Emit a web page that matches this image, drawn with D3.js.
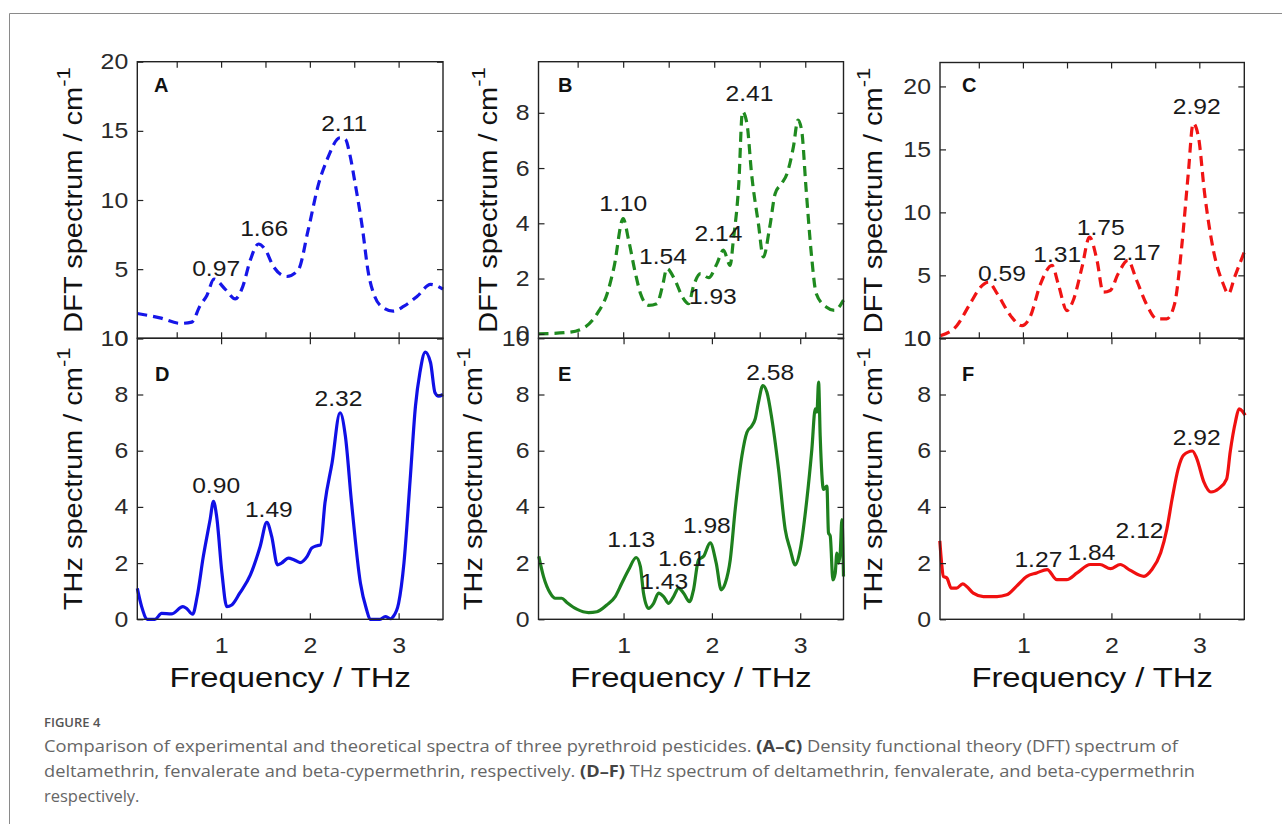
<!DOCTYPE html>
<html><head><meta charset="utf-8">
<script src="https://cdn.jsdelivr.net/npm/d3@7"></script>
<style>body{margin:0;background:#fff}svg{display:block}</style>
</head><body>
<svg id="c" width="1282" height="824"></svg>
<script>
// ---------------- DATA ----------------
const freqA = [0.056,0.31,0.54,0.67,0.76,0.84,0.92,1.045,1.16,1.245,1.33,1.42,1.50,1.59,1.74,1.87,1.98,2.10,2.19,2.34,2.40,2.45,2.51,2.59,2.66,2.73,2.83,2.94,3.06,3.21,3.36,3.50];
const dftA  = [1.79,1.48,1.08,1.17,2.32,3.1,4.28,3.56,2.85,3.76,5.67,6.82,6.39,5.19,4.47,4.95,7.8,11.2,12.85,14.5,14.4,13.3,11.2,8.06,4.7,3.04,2.2,1.96,2.32,3.04,3.9,3.56];

const freqB = [0.07,0.39,0.57,0.715,0.825,0.90,1.0,1.06,1.135,1.19,1.28,1.37,1.43,1.48,1.57,1.65,1.72,1.77,1.85,1.94,2.03,2.10,2.175,2.21,2.27,2.31,2.36,2.41,2.485,2.54,2.61,2.67,2.74,2.80,2.87,2.92,2.96,3.01,3.07,3.12,3.23,3.32,3.42];
const dftB  = [0.0,0.05,0.22,0.73,1.46,2.42,4.17,3.39,2.18,1.46,1.03,1.09,1.7,2.36,1.94,1.34,1.09,1.7,2.18,2.03,2.54,3.03,2.48,3.39,5.44,8.04,7.6,5.8,3.99,2.78,3.87,5.08,5.44,5.8,6.77,7.74,7.37,5.2,2.78,1.46,0.97,0.85,1.22];

const freqC = [0.064,0.25,0.40,0.52,0.61,0.71,0.86,0.99,1.08,1.20,1.33,1.40,1.50,1.57,1.67,1.755,1.84,1.91,1.99,2.08,2.19,2.29,2.40,2.52,2.63,2.72,2.80,2.875,2.93,2.99,3.06,3.16,3.27,3.33,3.40,3.51];
const dftC  = [0.21,1.0,2.73,4.06,4.46,3.53,1.8,1.0,1.67,4.33,5.79,4.33,2.2,3.0,5.65,8.04,6.19,3.66,3.8,5.12,6.19,4.59,2.73,1.54,1.54,2.73,7.25,13.1,17.07,16.0,11.5,6.98,4.33,3.53,4.86,6.85];

const freqD = [0.056,0.105,0.17,0.255,0.33,0.44,0.57,0.61,0.68,0.73,0.80,0.876,0.914,0.95,1.01,1.064,1.12,1.21,1.33,1.44,1.515,1.57,1.635,1.68,1.76,1.82,1.89,1.97,2.02,2.08,2.12,2.17,2.25,2.34,2.40,2.47,2.57,2.64,2.68,2.79,2.85,2.91,2.94,3.0,3.06,3.13,3.19,3.24,3.30,3.36,3.41,3.45,3.50];
const thzD  = [1.1,0.45,0,0,0.21,0.19,0.45,0.39,0.18,0.81,2.24,3.54,4.2,3.66,1.64,0.45,0.51,0.93,1.58,2.59,3.45,2.95,1.94,2.0,2.18,2.12,2.02,2.24,2.53,2.62,2.65,4.14,5.56,7.35,6.52,4.14,1.28,0.33,0,0,0.1,0.02,0.1,0.57,2.0,4.97,7.59,8.78,9.51,9.13,8.06,7.94,8.0];

const freqE = [0.04,0.094,0.17,0.226,0.30,0.358,0.47,0.604,0.698,0.81,0.906,0.98,1.057,1.143,1.19,1.226,1.283,1.34,1.396,1.453,1.51,1.566,1.623,1.68,1.747,1.792,1.849,1.906,1.981,2.049,2.106,2.151,2.208,2.264,2.34,2.396,2.453,2.49,2.528,2.577,2.623,2.679,2.755,2.83,2.887,2.943,3.0,3.075,3.132,3.17,3.189,3.208,3.226,3.264,3.302,3.32,3.34,3.37,3.396,3.415,3.434,3.453,3.472,3.49];
const thzE  = [2.24,1.52,0.93,0.75,0.75,0.6,0.36,0.24,0.27,0.51,0.81,1.28,1.76,2.2,1.88,0.93,0.39,0.57,0.93,0.81,0.57,0.81,1.11,0.93,0.63,1.05,2.12,2.24,2.72,2.0,1.05,1.28,2.12,3.91,5.82,6.65,6.89,7.13,7.73,8.32,8.08,7.13,5.34,3.2,2.48,1.94,2.48,4.26,6.06,7.49,7.37,8.44,6.53,4.62,4.74,3.08,2.96,1.4,1.64,2.36,2.0,2.36,3.55,1.52];

const freqF = [0.05,0.07,0.09,0.13,0.18,0.24,0.31,0.355,0.43,0.545,0.70,0.81,0.92,1.04,1.15,1.27,1.38,1.49,1.61,1.76,1.87,1.99,2.10,2.21,2.37,2.46,2.56,2.63,2.69,2.76,2.82,2.92,2.97,3.05,3.13,3.22,3.31,3.35,3.41,3.45,3.49,3.52];
const thzF  = [2.79,2.01,1.53,1.47,1.11,1.11,1.26,1.17,0.93,0.81,0.81,0.87,1.17,1.53,1.65,1.77,1.41,1.41,1.65,1.95,1.95,1.8,1.95,1.75,1.53,1.77,2.37,3.21,4.29,5.37,5.84,5.99,5.72,4.89,4.53,4.65,5.0,5.96,7.04,7.49,7.40,7.26];

// peak annotations (text, frequency, intensity of label centre)
const peaksA = ["0.97","1.66","2.11"], peakXA = [0.944,1.485,2.387], peakYA = [5.07,7.94,15.53];
const peaksB = ["1.10","1.54","1.93","2.14","2.41"], peakXB = [1.0,1.438,1.985,2.047,2.387], peakYB = [4.75,2.83,1.36,3.66,8.7];
const peaksC = ["0.59","1.31","1.75","2.17","2.92"], peakXC = [0.762,1.389,1.883,2.29,2.97], peakYC = [5.18,6.72,8.84,6.85,18.45];
const peaksD = ["0.90","1.49","2.32"], peakXD = [0.944,1.538,2.323], peakYD = [4.76,3.92,7.88];
const peaksE = ["1.13","1.43","1.61","1.98","2.58"], peakXE = [1.087,1.46,1.66,1.943,2.66], peakYE = [2.84,1.35,2.18,3.37,8.8];
const peaksF = ["1.27","1.84","2.12","2.92"], peakXF = [1.17,1.774,2.32,2.97], peakYF = [2.16,2.40,3.16,6.47];

// ticks
const yTicksA = [0,5,10,15,20];
const yTicksB = [0,2,4,6,8];
const yTicksC = [0,5,10,15,20];
const yTicksBottom = [0,2,4,6,8,10];
const xTicksTop = [0.5,1,1.5,2,2.5,3];
const xTicksBottom = [1,2,3];

// ---------------- DRAW ----------------
const svg = d3.select('#c');
const FONT = "'Liberation Sans', Arial, Helvetica, sans-serif";

// outer frame
svg.append('path').attr('d','M9.5,824 V13.5 H1282').attr('fill','none').attr('stroke','#8a8a8a').attr('stroke-width',1);

const panels = [
 {fx:freqA, fy:dftA, xd:[0.056,3.5], yd:[0,20], l:137.3,t:61.7,r:443,b:338.3, yt:yTicksA, color:'#1616e8', dashed:true, lab:peaksA, lx:peakXA, ly:peakYA, letter:'A', lp:[154,92], title:'DFT spectrum / cm', tx:82, top:true},
 {fx:freqB, fy:dftB, xd:[0.07,3.42], yd:[-0.163,9.85], l:538.5,t:61.7,r:843.5,b:338.3, yt:yTicksB, color:'#1f8a1f', dashed:true, lab:peaksB, lx:peakXB, ly:peakYB, letter:'B', lp:[558,92], title:'DFT spectrum / cm', tx:497, top:true},
 {fx:freqC, fy:dftC, xd:[0.06,3.51], yd:[0,21.9], l:940,t:62.5,r:1244.3,b:338.3, yt:yTicksC, color:'#f01414', dashed:true, lab:peaksC, lx:peakXC, ly:peakYC, letter:'C', lp:[962,92], title:'DFT spectrum / cm', tx:882, top:true},
 {fx:freqD, fy:thzD, xd:[0.056,3.5], yd:[0,10], l:137.3,t:338.3,r:443,b:619.3, yt:yTicksBottom, color:'#1010e6', dashed:false, lab:peaksD, lx:peakXD, ly:peakYD, letter:'D', lp:[155,381], title:'THz spectrum / cm', tx:82, top:false},
 {fx:freqE, fy:thzE, xd:[0.037,3.49], yd:[0,10], l:538.5,t:338.3,r:843.5,b:619.3, yt:yTicksBottom, color:'#1e801e', dashed:false, lab:peaksE, lx:peakXE, ly:peakYE, letter:'E', lp:[558,381], title:'THz spectrum / cm', tx:482, top:false},
 {fx:freqF, fy:thzF, xd:[0.052,3.51], yd:[0,10], l:940,t:338.3,r:1244.3,b:619.3, yt:yTicksBottom, color:'#f01010', dashed:false, lab:peaksF, lx:peakXF, ly:peakYF, letter:'F', lp:[962,381], title:'THz spectrum / cm', tx:882, top:false}
];

function styleAxis(g, labels){
  g.select('.domain').remove();
  g.selectAll('line').attr('stroke','#222').attr('stroke-width',1.2);
  g.selectAll('text').attr('font-family',FONT).attr('font-size',22).attr('fill','#2a2a2a')
   .attr('transform','scale(1.13,1)');
  if(!labels) g.selectAll('text').remove();
}

panels.forEach(p=>{
  const g = svg.append('g');
  const x = d3.scaleLinear().domain(p.xd).range([p.l,p.r]);
  const y = d3.scaleLinear().domain(p.yd).range([p.b,p.t]);

  // curve
  const line = d3.line().x(d=>x(d[0])).y(d=>y(d[1])).curve(d3.curveMonotoneX);
  g.append('path').datum(d3.zip(p.fx,p.fy)).attr('d',line)
   .attr('fill','none').attr('stroke',p.color)
   .attr('stroke-width',p.dashed?3.2:3.2)
   .attr('stroke-linejoin','round')
   .attr('stroke-dasharray',p.dashed?'10,6':null);

  // axes (inward ticks)
  const xt = p.top ? xTicksTop : xTicksBottom;
  styleAxis(g.append('g').attr('transform',`translate(${p.l},0)`)
    .call(d3.axisLeft(y).tickValues(p.yt).tickSize(-6).tickPadding(8).tickFormat(d3.format('d'))), true);
  styleAxis(g.append('g').attr('transform',`translate(${p.r},0)`)
    .call(d3.axisRight(y).tickValues(p.yt).tickSize(-6)), false);
  styleAxis(g.append('g').attr('transform',`translate(0,${p.t})`)
    .call(d3.axisTop(x).tickValues(xt).tickSize(-6)), false);
  styleAxis(g.append('g').attr('transform',`translate(0,${p.b})`)
    .call(d3.axisBottom(x).tickValues(xt).tickSize(-6).tickPadding(18).tickFormat(d3.format('d'))), !p.top);

  // box
  g.append('rect').attr('x',p.l).attr('y',p.t).attr('width',p.r-p.l).attr('height',p.b-p.t)
   .attr('fill','none').attr('stroke','#222').attr('stroke-width',1.4);

  // peak labels
  p.lab.forEach((t,i)=>{
    g.append('text').attr('transform',`translate(${x(p.lx[i])},${y(p.ly[i])}) scale(1.12,1)`)
     .attr('text-anchor','middle').attr('dy','0.36em')
     .attr('font-family',FONT).attr('font-size',22).attr('fill','#1a1a1a').text(t);
  });

  // panel letter
  g.append('text').attr('x',p.lp[0]).attr('y',p.lp[1]).attr('font-family',FONT)
   .attr('font-weight','bold').attr('font-size',20).attr('fill','#111').text(p.letter);

  // y title
  const cy = (p.t+p.b)/2;
  const yt = g.append('text').attr('transform',`translate(${p.tx},${cy}) rotate(-90) scale(1.16,1)`)
   .attr('text-anchor','middle').attr('font-family',FONT).attr('font-size',25).attr('fill','#111');
  yt.append('tspan').text(p.title);
  yt.append('tspan').attr('font-size',19).attr('dy',-12).text('-1');

  // x title
  if(!p.top){
    g.append('text').attr('transform',`translate(${(p.l+p.r)/2},687) scale(1.17,1)`)
     .attr('text-anchor','middle').attr('font-family',FONT).attr('font-size',28).attr('fill','#111')
     .text('Frequency / THz');
  }
});

// caption
const CF = "'Open Sans', 'Noto Sans', sans-serif";
svg.append('text').attr('x',44).attr('y',727).attr('font-family',CF).attr('font-size',13)
  .attr('font-weight',600).attr('fill','#555').text('FIGURE 4');

function capLine(yy, parts, len){
  const t = svg.append('text').attr('x',44).attr('y',yy).attr('font-family',CF)
    .attr('font-size',16.5).attr('fill','#666');
  parts.forEach(pt=>{
    const s = t.append('tspan').text(pt[0]);
    if(pt[1]) s.attr('font-weight',700).attr('fill','#444');
  });
  if(len) t.attr('textLength',len).attr('lengthAdjust','spacingAndGlyphs');
}
capLine(752,[["Comparison of experimental and theoretical spectra of three pyrethroid pesticides. "],["(A–C)",true],[" Density functional theory (DFT) spectrum of"]],1134);
capLine(777,[["deltamethrin, fenvalerate and beta-cypermethrin, respectively. "],["(D–F)",true],[" THz spectrum of deltamethrin, fenvalerate, and beta-cypermethrin"]],1151);
capLine(802,[["respectively."]],null);
</script>
</body></html>
